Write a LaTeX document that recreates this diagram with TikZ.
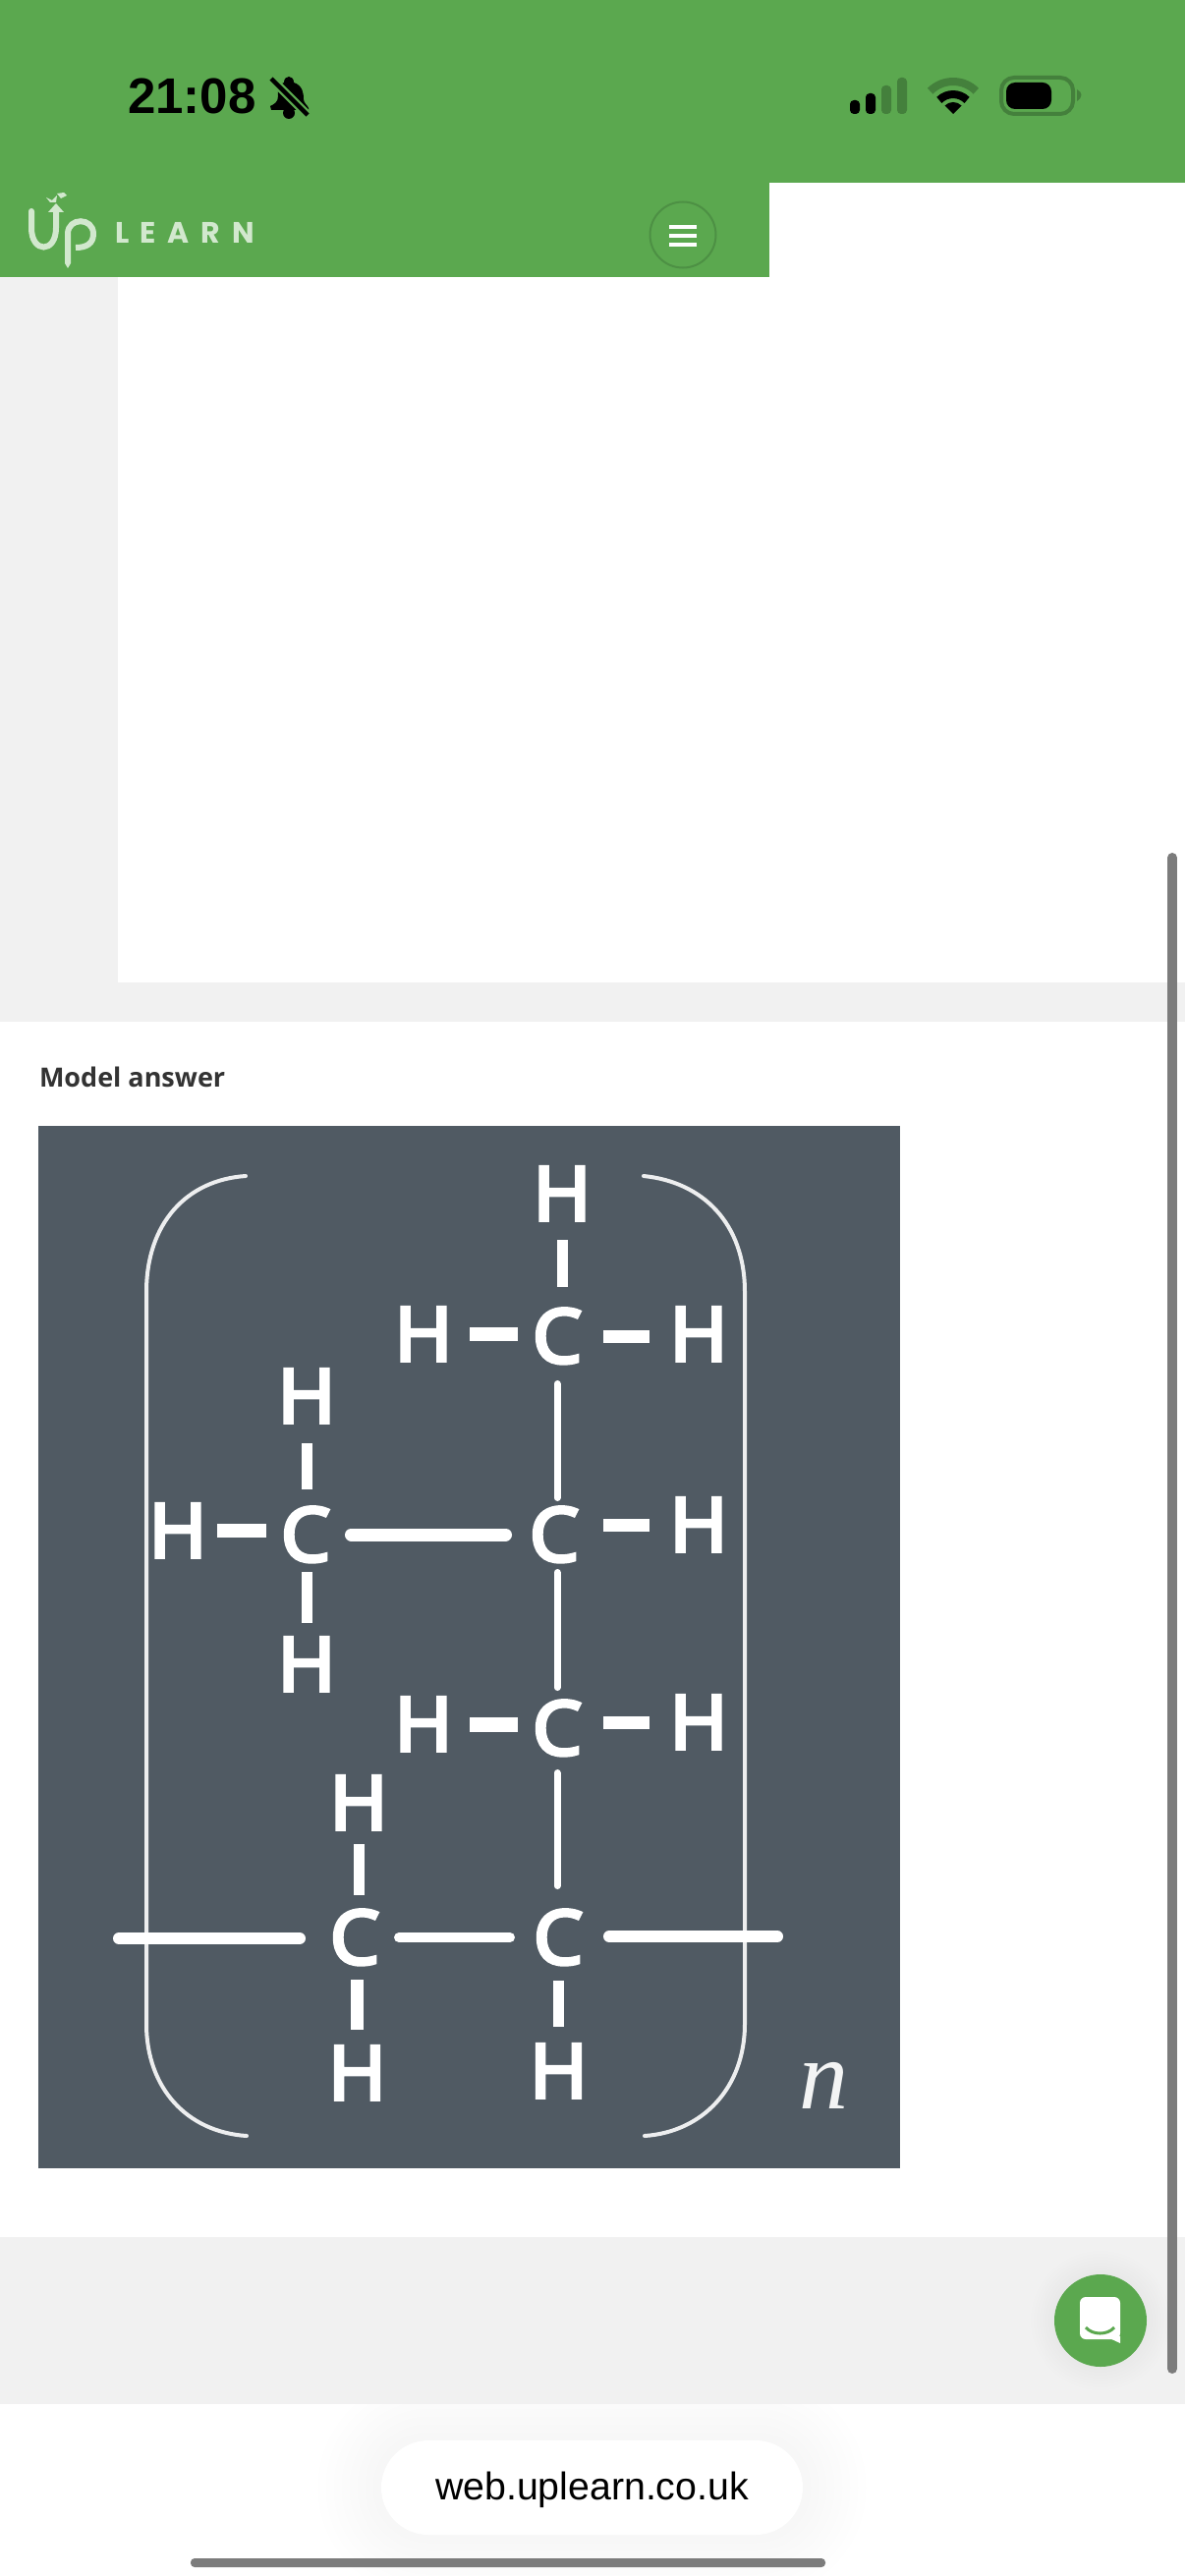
\documentclass[tikz,border=0pt]{standalone}
\usepackage{fontspec}
\setmainfont{Open Sans}
\newfontfamily\atomfont[FakeBold=5,FakeStretch=1.05]{Open Sans}
\newfontfamily\timefont{Liberation Sans}
\newfontfamily\nfont{Liberation Serif}
\newfontfamily\logofont[LetterSpace=39]{Poppins}
\definecolor{upgreen}{HTML}{5BA84F}
\definecolor{updark}{HTML}{44803C}
\definecolor{uplight}{HTML}{D2E8CE}
\definecolor{pagegray}{HTML}{F1F1F1}
\definecolor{slate}{HTML}{505A63}
\definecolor{barred}{HTML}{7C7C7C}
\tikzset{
  atom/.style={inner sep=0pt,outer sep=0pt,minimum width=23pt,text height=27pt,text depth=0pt,text=white},
  bondline/.style={draw=white,line cap=round},
  hbond/.style={draw=white,line cap=butt},
  gaps/.style 2 args={shorten <=#1*0.5pt,shorten >=#2*0.5pt},
  bracket/.style={draw=white!90!slate,line width=2pt,line cap=round},
  label/.style={inner sep=0pt,outer sep=0pt,anchor=base west}
}
\newcommand{\atomtext}[1]{\makebox[0pt]{\fontsize{38}{38}\atomfont #1}}
\begin{document}
\begin{tikzpicture}[x=0.5pt,y=-0.5pt]
\useasboundingbox (0,0) rectangle (1206,2622);
% page
\fill[white] (0,0) rectangle (1206,2622);
\fill[pagegray] (0,282) rectangle (1206,1040);
\fill[white] (120,282) rectangle (1206,1000);
\fill[pagegray] (0,2277) rectangle (1206,2447);
% header
\fill[upgreen] (0,0) rectangle (1206,186);
\fill[upgreen] (0,186) rectangle (783,282);
% status bar
\node[label,font=\timefont\bfseries\fontsize{25.5}{25.5}\selectfont] (time) at (130,116) {21:08};
\fill[black] (294,115) circle[radius=3pt];
\fill[black] (289,84) .. controls (289,76) and (299,76) .. (299,84) .. controls (308,87) and (309,95) .. (309,101) .. controls (309,105) and (313,107) .. (314,110) -- (314,112) -- (276,112) -- (275,108) .. controls (279,106) and (283,104) .. (283,98) .. controls (283,92) and (282,87) .. (289,84) -- cycle;
\draw[upgreen,line width=4.5pt] (271,75) -- (318,122);
\draw[black,line width=2.2pt] (276,80) -- (313,117);
% signal
\fill[black,rounded corners=2pt] (865,102) rectangle (875,116);
\fill[black,rounded corners=2pt] (881,95) rectangle (891,116);
\fill[updark,rounded corners=2pt] (897,87) rectangle (907,116);
\fill[updark,rounded corners=2pt] (913,79) rectangle (923,116);
% wifi
\draw[updark,line width=4pt] (993.3,92.7) arc[start angle=45,end angle=135,radius=16.5pt];
\draw[black,line width=4pt] (984.1,101.9) arc[start angle=45,end angle=135,radius=10pt];
\fill[black] (970,116) -- (978.5,107.5) arc[start angle=45,end angle=135,radius=6pt] -- cycle;
% battery
\draw[updark,line width=2pt,rounded corners=6.5pt] (1019,79) rectangle (1092,116);
\fill[black,rounded corners=4.5pt] (1024,84) rectangle (1070,111);
\fill[updark] (1096,91) .. controls (1102,94) and (1102,99) .. (1096,103) -- cycle;
% logo
\draw[uplight,line width=3pt,line cap=round] (32,215) -- (32,232) .. controls (32,258) and (57,258) .. (57,232) -- (57,214);
\fill[uplight] (57,207) -- (65,216) -- (49,216) -- cycle;
\draw[uplight,line width=3pt] (69,268) -- (69,238) .. controls (69,221) and (95,221) .. (95,238) .. controls (95,248) and (88,252) .. (77,252);
\fill[uplight] (66,268) -- (72,268) -- (69,273) -- cycle;
\fill[uplight] (47,201) -- (53,204) -- (58,199) -- (57,206) -- (51,206) -- cycle;
\fill[uplight] (58,197) -- (65,196) -- (68,199) -- (62,202) -- cycle;
\node[label,font=\logofont\bfseries\fontsize{15}{15}\selectfont,text=uplight] (learn) at (117,248) {LEARN};
% menu
\node[circle,draw=updark!60!upgreen,line width=1pt,minimum size=33.5pt,inner sep=0pt] (menu) at (695,239) {};
\foreach \yy in {231,240,249} \fill[white] (681,\yy-2.2) rectangle (709,\yy+2.2);
% model answer
\node[label,font=\bfseries\fontsize{13.5}{13.5}\selectfont,text=black!80] (model) at (40,1106) {Model answer};
\fill[slate] (39,1146) rectangle (916,2207);
% brackets
\draw[bracket] (250,1197) .. controls (190,1201) and (149,1245) .. (149,1315) -- (149,2060) .. controls (149,2125) and (190,2170) .. (251,2174);
\draw[bracket] (655,1197) .. controls (715,1203) and (758,1245) .. (758,1315) -- (758,2060) .. controls (758,2125) and (715,2170) .. (656,2174);
% atoms
\node[atom] (H1) at (572,1215) {\atomtext{H}};
\node[atom] (C1) at (567,1360) {\atomtext{C}};
\node[atom] (H2) at (431,1358) {\atomtext{H}};
\node[atom] (H3) at (711,1358) {\atomtext{H}};
\node[atom] (H4) at (312,1421) {\atomtext{H}};
\node[atom] (C2) at (311,1562) {\atomtext{C}};
\node[atom] (H5) at (181,1558) {\atomtext{H}};
\node[atom] (C3) at (564,1562) {\atomtext{C}};
\node[atom] (H6) at (711,1552) {\atomtext{H}};
\node[atom] (H7) at (312,1694) {\atomtext{H}};
\node[atom] (H8) at (431,1755) {\atomtext{H}};
\node[atom] (C4) at (567,1759) {\atomtext{C}};
\node[atom] (H9) at (711,1753) {\atomtext{H}};
\node[atom] (H10) at (365,1835) {\atomtext{H}};
\node[atom] (C5) at (361,1972) {\atomtext{C}};
\node[atom] (C6) at (568,1972) {\atomtext{C}};
\node[atom] (H11) at (363.5,2110) {\atomtext{H}};
\node[atom] (H12) at (568.5,2108) {\atomtext{H}};
\coordinate (T1) at (121,1973);
\coordinate (T2) at (791,1971);
% vertical bonds
\draw[hbond,line width=5.5pt,gaps={20}{23}] (H1.south) -- (H1.south |- C1.north);
\draw[bondline,line width=3.5pt,gaps={21.5}{10.5}] (C1.south) -- (C1.south |- C3.north);
\draw[bondline,line width=3.5pt,gaps={11.5}{14.5}] (C4.north |- C3.south) -- (C4.north);
\draw[bondline,line width=3.5pt,gaps={18.5}{25.5}] (C4.south) -- (C4.south |- C6.north);
\draw[hbond,line width=5.5pt,gaps={21}{19}] (H4.south) -- (H4.south |- C2.north);
\draw[hbond,line width=5.5pt,gaps={11}{15}] (H7.north |- C2.south) -- (H7.north);
\draw[hbond,line width=5.5pt,gaps={15}{16}] (H10.south) -- (H10.south |- C5.north);
\draw[hbond,line width=6.5pt,gaps={16}{17}] (H11.north |- C5.south) -- (H11.north);
\draw[hbond,line width=5.5pt,gaps={17}{18}] (H12.north |- C6.south) -- (H12.north);
% horizontal bonds
\draw[hbond,line width=7pt,gaps={24}{17}] (H2.east) -- (H2.east -| C1.west);
\draw[hbond,line width=6.5pt,gaps={24}{27}] (C1.east) -- (C1.east -| H3.west);
\draw[hbond,line width=7pt,gaps={17}{17}] (H5.east) -- (H5.east -| C2.west);
\draw[bondline,line width=6.5pt,gaps={23.5}{26.5},yshift=2.5pt] (C2.east) -- (C2.east -| C3.west);
\draw[hbond,line width=6.5pt,gaps={27}{27}] (H6.west -| C3.east) -- (H6.west);
\draw[hbond,line width=7.5pt,gaps={24}{17}] (H8.east) -- (H8.east -| C4.west);
\draw[hbond,line width=6.5pt,gaps={24}{27}] (H9.west -| C4.east) -- (H9.west);
\draw[bondline,line width=6pt,gaps={0}{33}] (T1) -- (T1 -| C5.west);
\draw[bondline,line width=5pt,gaps={22}{26}] (C5.east) -- (C5.east -| C6.west);
\draw[bondline,line width=6pt,gaps={29}{0}] (T2 -| C6.east) -- (T2);
% n
\node[inner sep=0pt,outer sep=0pt,anchor=base,text=white!93!slate,font=\nfont\itshape\fontsize{50}{50}\selectfont] (nlabel) at (838,2146) {n};
% scrollbar
\draw[barred,line width=5pt,line cap=round] (1193,873) -- (1193,2411);
% chat button
\foreach \rr in {47,50,...,71} \fill[black,opacity=0.005] (1120,2362) circle[radius=\rr*0.5pt];
\fill[upgreen] (1120,2362) circle[radius=23.5pt];
\fill[white,rounded corners=3pt] (1099,2338) rectangle (1140,2381);
\fill[white] (1125,2378) -- (1140,2378) -- (1140,2385) -- cycle;
\draw[upgreen,line width=1.5pt] (1105,2369) .. controls (1112,2377) and (1127,2377) .. (1134,2369);
% address pill
\begin{scope}
\clip (0,2447) rectangle (1206,2622);
\foreach \rr/\lev in {64/0.3,56/0.7,48/1.1,40/1.5,32/1.9,24/2.3,16/2.7,8/3.1}
  \fill[black!\lev!white,rounded corners={(48+\rr)*0.5pt}] (388-\rr,2484-\rr) rectangle (817+\rr,2580+\rr);
\end{scope}
\fill[white,rounded corners=24pt] (388,2484) rectangle (817,2580);
\node[label,font=\timefont\fontsize{19.65}{19.65}\selectfont,text=black] (url) at (443,2544) {web.uplearn.co.uk};
% home bar
\fill[barred,rounded corners=2pt] (194,2604) rectangle (840,2613);
\end{tikzpicture}
\end{document}
